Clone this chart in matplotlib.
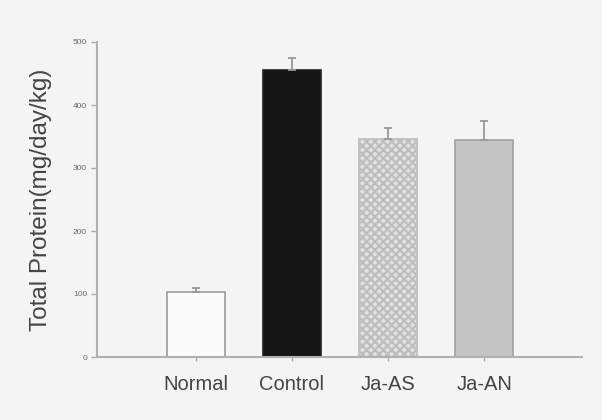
import matplotlib.pyplot as plt

groups = ['Normal', 'Control', 'Ja-AS', 'Ja-AN']
protein = [103, 455, 346, 344]
sem = [7, 19, 17, 31]
yticks = [0, 100, 200, 300, 400, 500]

plt.rcParams['font.family'] = ['Liberation Sans', 'DejaVu Sans']
plt.rcParams['hatch.color'] = '#8c8c8c'
plt.rcParams['hatch.linewidth'] = 1.6

fig = plt.figure(figsize=(6.02, 4.2), dpi=100)
fig.patch.set_facecolor('#f4f4f4')
ax = fig.add_axes([0.161, 0.15, 0.806, 0.75])
ax.set_facecolor('#f4f4f4')

x = range(len(groups))
face = ['#fbfbfb', '#151515', '#e2e2e2', '#c4c4c4']
edge = ['#9a9a9a', '#202020', '#bdbdbd', '#a0a0a0']
hatch = [None, None, 'xxxx', None]

for i in x:
    ax.bar(i, protein[i], width=0.61, color=face[i], edgecolor=edge[i],
           linewidth=1.2, hatch=hatch[i], zorder=2)
    ax.errorbar(i, protein[i], yerr=[[0], [sem[i]]], fmt='none',
                ecolor='#999999', elinewidth=1.3, capsize=3, capthick=1.3,
                zorder=3)

ax.set_xlim(-1.03, 4.02)
ax.set_ylim(0, 500)
ax.set_xticks(list(x))
ax.set_xticklabels(groups, fontsize=14.5, color='#444444')
ax.set_yticks(yticks)
ax.set_yticklabels([str(t) for t in yticks], fontsize=6, color='#666666')
ax.tick_params(axis='y', length=4, width=1, color='#aaaaaa', pad=3)
ax.tick_params(axis='x', length=3, width=1, color='#aaaaaa', pad=10)

for s in ['top', 'right']:
    ax.spines[s].set_visible(False)
for s in ['left', 'bottom']:
    ax.spines[s].set_color('#b0b0b0')
    ax.spines[s].set_linewidth(1.5)

ax.set_ylabel('Total Protein(mg/day/kg)', fontsize=17.5, color='#444444',
              labelpad=15)

plt.savefig('out.png', dpi=100, facecolor=fig.get_facecolor())
